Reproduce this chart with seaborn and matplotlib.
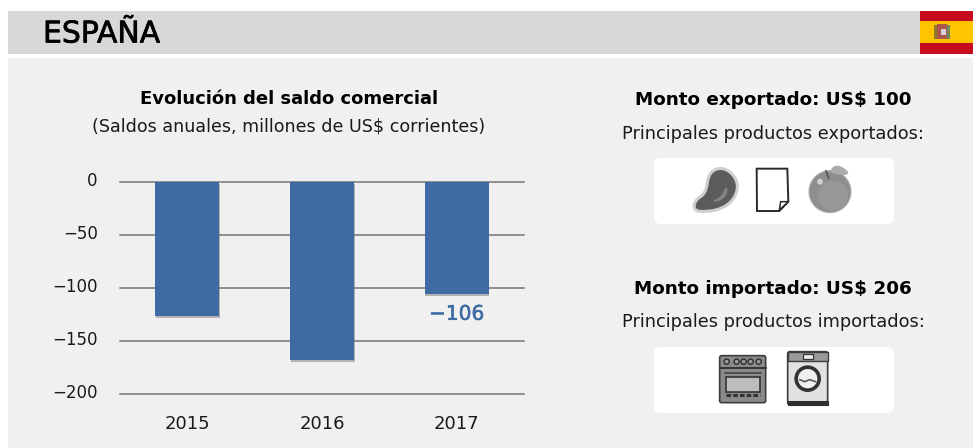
"""Saldo comercial con Espana: barras anuales e iconos de productos."""
import matplotlib; matplotlib.use("Agg")
import matplotlib.pyplot as plt
import matplotlib.patheffects as pe
from matplotlib.patches import Rectangle, Circle, FancyBboxPatch, PathPatch, Polygon
from matplotlib.path import Path
from matplotlib.transforms import ScaledTranslation
import pandas as pd
import seaborn as sns

YEARS = ["2015", "2016", "2017"]
SALDO = [-126, -168, -106]
SHOWN_LABELS = ["", "", "\u2212106"]
Y_TICKS = [0, -50, -100, -150, -200]
W, H = 973, 448
BLUE = "#3e6ba3"

sns.set_theme(style="white")
plt.rcParams["font.family"] = ["DejaVu Sans"]


def blob(ax, pts, **kw):
    # closed smooth shape through midpoints of pts
    n = len(pts); verts = []; codes = []
    mid = lambda a, b: ((a[0]+b[0])/2, (a[1]+b[1])/2)
    verts.append(mid(pts[-1], pts[0])); codes.append(Path.MOVETO)
    for i in range(n):
        verts += [pts[i], mid(pts[i], pts[(i+1) % n])]
        codes += [Path.CURVE3, Path.CURVE3]
    ax.add_patch(PathPatch(Path(verts, codes), **kw))


def z(pts, ox, oy):
    # zoom crop coords -> picture pixels
    return [(ox+x/3, oy+y/3) for x, y in pts]


def draw_export_icons(bg):
    ox, oy = 640, 150
    meat = [(205, 72), (235, 52), (270, 62), (296, 100), (285, 145), (250, 175), (200, 186), (160, 182), (165, 150), (198, 130)]
    blob(bg, z(meat, ox, oy), fc="#5c5c5c", ec="#cfcfcf", lw=2.2, zorder=3)
    blob(bg, z([(212, 155), (245, 140), (258, 105), (265, 130), (240, 155)], ox, oy), fc="#848484", ec="none", zorder=4)
    # hoja de papel
    paper = [(350, 56), (442, 56), (445, 155), (418, 183), (351, 183)]
    bg.add_patch(Polygon(z(paper, ox, oy), fc="white", ec="#2b2b2b", lw=1.4, zorder=3))
    bg.add_patch(Polygon(z([(422, 155), (445, 155), (418, 180)], ox, oy), fc="white", ec="#2b2b2b", lw=1.1, zorder=4))
    # fruta
    cx, cy = ox+570/3, oy+125/3
    bg.add_patch(Circle((cx, cy), 21, fc="#8e8e8e", ec="#b0b0b0", lw=0.8, zorder=3))
    bg.add_patch(Circle((cx+3, cy+4), 15, fc="#a0a0a0", ec="none", zorder=4, alpha=0.55))
    bg.add_patch(Circle((cx-10, cy-10), 3, fc="#cfcfcf", ec="none", zorder=5))
    blob(bg, z([(565, 65), (590, 40), (635, 70), (600, 78)], ox, oy), fc="#ababab", ec="none", zorder=3)
    bg.plot(*zip(*z([(558, 62), (566, 85)], ox, oy)), color="#555555", lw=1.2, zorder=5)


def draw_import_icons(bg):
    ox, oy = 640, 340
    # horno
    x0, y0 = ox+236/3, oy+44/3
    bg.add_patch(FancyBboxPatch((x0+1, y0+1), 46, 47, boxstyle="round,pad=0,rounding_size=2", fc="#8a8a8a", ec="#3d3d3d", lw=1.2, zorder=3))
    bg.plot([x0+1, x0+47], [y0+13, y0+13], color="#333333", lw=1.4, zorder=4)
    for dx in [8, 18, 25, 32, 40]:
        bg.add_patch(Circle((x0+dx, y0+7), 2.6, fc="#9a9a9a", ec="#2e2e2e", lw=1, zorder=4))
    bg.add_patch(Rectangle((x0+7, y0+22), 34, 15, fc="#bdbdbd", ec="#333333", lw=1.2, zorder=4))
    bg.plot([x0+6, x0+42], [y0+18, y0+18], color="#444444", lw=1.2, zorder=4)
    bg.plot([x0+7, x0+41], [y0+40, y0+40], color="#333333", lw=2.2, ls=(0, (1.5, 0.7)), zorder=4)
    # lavadora
    x1, y1 = ox+440/3, oy+35/3
    bg.add_patch(FancyBboxPatch((x1+1, y1), 40, 53, boxstyle="round,pad=0,rounding_size=2", fc="#e2e2e2", ec="#3d3d3d", lw=1.2, zorder=3))
    bg.add_patch(Rectangle((x1+1, y1), 40, 9, fc="#9a9a9a", ec="#3d3d3d", lw=1, zorder=4))
    bg.add_patch(Rectangle((x1+16, y1+2), 10, 5, fc="#eeeeee", ec="#333333", lw=0.9, zorder=5))
    bg.add_patch(Rectangle((x1+1, y1+49), 40, 4, fc="#2e2e2e", ec="#2e2e2e", lw=0.8, zorder=4))
    bg.add_patch(Circle((x1+21, y1+27), 11.5, fc="#f0f0f0", ec="#333333", lw=2.6, zorder=4))
    bg.plot([x1+13, x1+18, x1+23, x1+29], [y1+28, y1+30, y1+28, y1+30], color="#555555", lw=1.2, zorder=5)


fig = plt.figure(figsize=(W/100, H/100), dpi=100, facecolor="white")

# capa de fondo en pixeles
bg = fig.add_axes([0, 0, 1, 1], zorder=0)
bg.set_xlim(0, W); bg.set_ylim(H, 0); bg.axis("off")
bg.add_patch(Rectangle((8, 11), 912, 43, fc="#d8d8d8", ec="none"))
bg.add_patch(Rectangle((8, 58), W-8, H-58, fc="#f0f0f0", ec="none"))
bg.text(43, 34, "ESPAÑA", fontsize=21.5, color="black", va="center", ha="left",
        path_effects=[pe.withStroke(linewidth=0.5, foreground="black")])

# bandera
bg.add_patch(Rectangle((920, 11), 53, 43, fc="#c60b1e", ec="none"))
bg.add_patch(Rectangle((920, 21), 53, 22, fc="#ffc400", ec="none"))
bg.add_patch(Rectangle((934, 25), 3, 14, fc="#8f7a2c", ec="none"))
bg.add_patch(Rectangle((947, 25), 3, 14, fc="#6f8a5a", ec="none"))
bg.add_patch(Rectangle((937, 24), 10, 15, fc="#a8574a", ec="none"))
bg.add_patch(Rectangle((941, 29), 5, 6, fc="#d9d0dc", ec="none"))

# titulos
bg.text(289, 99, "Evolución del saldo comercial", fontsize=13, fontweight="bold", color="black", ha="center", va="center")
bg.text(289, 127, "(Saldos anuales, millones de US$ corrientes)", fontsize=12.6, color="#1a1a1a", ha="center", va="center")
bg.text(773, 100, "Monto exportado: US$ 100", fontsize=13.2, fontweight="bold", color="black", ha="center", va="center")
bg.text(773, 134, "Principales productos exportados:", fontsize=12.8, color="#1a1a1a", ha="center", va="center")
bg.text(773, 289, "Monto importado: US$ 206", fontsize=13.2, fontweight="bold", color="black", ha="center", va="center")
bg.text(773, 322, "Principales productos importados:", fontsize=12.8, color="#1a1a1a", ha="center", va="center")

# cajas blancas de iconos
for top in [158, 347]:
    bg.add_patch(FancyBboxPatch((654, top), 240, 66, boxstyle="round,pad=0,rounding_size=7", fc="white", ec="none", zorder=2))
draw_export_icons(bg)
draw_import_icons(bg)

# grafico de barras
left, right, top, bottom = 120, 524, 182, 394
ax = fig.add_axes([left/W, 1-bottom/H, (right-left)/W, (bottom-top)/H], zorder=1)
ax.patch.set_alpha(0)
df = pd.DataFrame({"anio": YEARS, "saldo": SALDO})
sns.barplot(data=df, x="anio", y="saldo", color=BLUE, saturation=1, width=0.475, ax=ax, zorder=3, linewidth=0)
for bar in ax.patches:
    bar.set_path_effects([pe.SimplePatchShadow(offset=(0.5, -1.5), shadow_rgbFace="#777777", alpha=0.5), pe.Normal()])
ax.bar_label(ax.containers[0], labels=SHOWN_LABELS, padding=7.5, color=BLUE, fontsize=14.5,
             path_effects=[pe.withStroke(linewidth=0.4, foreground=BLUE)])
ax.set_ylim(-200, 0)
ax.set_yticks(Y_TICKS)
ax.set_xlabel(""); ax.set_ylabel("")
ax.set_axisbelow(True)
ax.yaxis.grid(True, color="#8f8f8f", lw=1.4)
for gl in ax.get_ygridlines():
    gl.set_clip_on(False)
sns.despine(ax=ax, left=True, bottom=True)
ax.tick_params(axis="y", length=0, pad=16, labelsize=12, labelcolor="#1a1a1a")
ax.tick_params(axis="x", length=0, pad=15, labelsize=13, labelcolor="#1a1a1a")
up = ScaledTranslation(0, 2/72, fig.dpi_scale_trans)
for lbl in ax.get_yticklabels():
    lbl.set_transform(lbl.get_transform() + up)

fig.savefig("out.png", dpi=100, facecolor="white")
plt.close(fig)
